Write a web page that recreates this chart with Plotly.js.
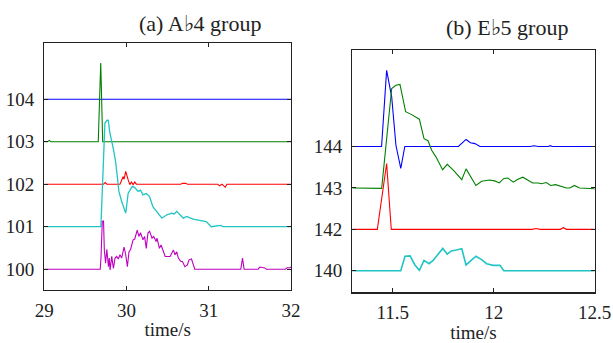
<!DOCTYPE html>
<html>
<head>
<meta charset="utf-8">
<script src="https://cdn.plot.ly/plotly-3.0.1.min.js"></script>
<style>html,body{margin:0;padding:0;background:#fff;}#chart{width:613px;height:343px;}</style>
</head>
<body>
<div id="chart"></div>
<script>
// ---- Panel (a): Ab4 group ----
const aBlueX = [29, 32];
const aBlueY = [104, 104];
const aGreenX = [29, 29.04, 29.06, 29.08, 29.656, 29.686, 29.71, 32];
const aGreenY = [103, 103, 103.03, 103, 103, 104.85, 103, 103];
const aRedX = [29, 29.72, 29.74, 29.76, 29.92, 29.94, 29.96, 29.97, 29.99, 30.02, 30.04, 30.06, 30.08, 30.1, 30.12, 30.14, 30.66, 30.68, 30.72, 30.74, 31.11, 31.13, 31.16, 31.2, 31.22, 32];
const aRedY = [102, 102, 102.04, 102, 102, 102.1, 102.18, 102.12, 102.3, 102.1, 101.99, 102.05, 101.99, 102.05, 102.0, 102, 102, 102.02, 102.02, 102, 102, 101.96, 102.0, 101.93, 102, 102];
const aCyanX = [29, 29.688, 29.737, 29.765, 29.778, 29.798, 29.838, 29.867, 29.89, 29.907, 29.94, 29.98, 29.99, 30.02, 30.04, 30.07, 30.1, 30.14, 30.17, 30.2, 30.24, 30.28, 30.32, 30.38, 30.43, 30.49, 30.55, 30.58, 30.61, 30.65, 30.69, 30.73, 30.81, 30.89, 30.97, 31.03, 31.15, 31.17, 32];
const aCyanY = [101, 101, 103.44, 103.51, 103.5, 103.2, 102.85, 102.53, 102.14, 101.83, 101.6, 101.36, 101.32, 101.79, 101.87, 101.95, 101.92, 101.83, 101.86, 101.75, 101.78, 101.71, 101.47, 101.32, 101.2, 101.28, 101.32, 101.3, 101.36, 101.28, 101.2, 101.24, 101.18, 101.15, 101.12, 101.0, 101.03, 101.0, 101];
const aMagX = [29, 29.68, 29.69, 29.705, 29.72, 29.73, 29.745, 29.76, 29.78, 29.79, 29.80, 29.82, 29.84, 29.86, 29.88, 29.90, 29.92, 29.94, 29.97, 29.99, 30.01, 30.03, 30.05, 30.08, 30.10, 30.13, 30.15, 30.17, 30.2, 30.22, 30.24, 30.26, 30.28, 30.31, 30.33, 30.36, 30.37, 30.40, 30.42, 30.45, 30.47, 30.53, 30.57, 30.59, 30.61, 30.63, 30.66, 30.68, 30.71, 30.74, 30.76, 30.79, 30.81, 30.83, 31.39, 31.41, 31.43, 31.6, 31.62, 31.68, 31.7, 31.93, 31.96, 31.98, 32];
const aMagY = [100, 100, 100.3, 101.12, 101.14, 100.45, 100.14, 100.47, 100.06, 100.26, 99.98, 100.3, 100.02, 100.26, 100.3, 100.24, 100.34, 100.26, 100.52, 100.34, 100.06, 100.41, 100.47, 100.69, 100.71, 100.92, 100.77, 100.86, 100.69, 100.77, 100.49, 100.85, 100.89, 100.73, 100.77, 100.65, 100.73, 100.49, 100.57, 100.41, 100.30, 100.30, 100.45, 100.34, 100.41, 100.26, 100.18, 100.18, 100.06, 100.1, 100.22, 100.24, 100.1, 100.0, 100, 100.26, 100, 100, 100.05, 100.03, 100, 100, 100.04, 100.03, 100.05];
const aXTicks = [29, 30, 31, 32];
const aYTicks = [100, 101, 102, 103, 104];
const aYTickText = ['100', '101', '102', '103', '104'];

// ---- Panel (b): Eb5 group ----
const bBlueX = [11.3, 11.445, 11.47, 11.495, 11.516, 11.54, 11.56, 11.825, 11.863, 11.885, 11.907, 11.932, 12.18, 12.2, 12.22, 12.27, 12.28, 12.29, 12.5];
const bBlueY = [144, 144, 145.84, 145.2, 144.03, 143.47, 144.0, 144, 144.17, 144.09, 144.07, 144.0, 144, 144.02, 144, 144, 144.02, 144, 144];
const bGreenX = [11.3, 11.4455, 11.495, 11.516, 11.536, 11.564, 11.594, 11.632, 11.655, 11.675, 11.693, 11.714, 11.747, 11.77, 11.8, 11.82, 11.842, 11.863, 11.886, 11.912, 11.94, 11.98, 12.005, 12.028, 12.05, 12.07, 12.097, 12.12, 12.144, 12.167, 12.193, 12.22, 12.237, 12.26, 12.282, 12.306, 12.33, 12.36, 12.376, 12.4, 12.425, 12.45, 12.5];
const bGreenY = [143, 142.99, 145.4, 145.48, 145.5, 144.84, 144.77, 144.66, 144.19, 144.14, 143.91, 143.75, 143.44, 143.57, 143.43, 143.33, 143.2, 143.46, 143.28, 143.06, 143.16, 143.19, 143.17, 143.12, 143.23, 143.24, 143.14, 143.21, 143.26, 143.2, 143.12, 143.12, 143.1, 143.13, 143.06, 143.08, 143.04, 143.0, 143.0, 143.06, 143.0, 142.99, 142.98];
const bRedX = [11.3, 11.424, 11.47, 11.493, 12.19, 12.21, 12.23, 12.33, 12.345, 12.36, 12.5];
const bRedY = [142, 142, 143.59, 142, 142, 142.02, 142, 142, 142.04, 142, 142];
const bCyanX = [11.3, 11.54, 11.561, 11.586, 11.61, 11.632, 11.655, 11.68, 11.7, 11.726, 11.748, 11.77, 11.79, 11.815, 11.842, 11.863, 11.886, 11.912, 11.94, 11.965, 11.998, 12.031, 12.05, 12.5];
const bCyanY = [141, 141, 141.35, 141.36, 141.14, 141.01, 141.25, 141.17, 141.25, 141.42, 141.54, 141.4, 141.48, 141.5, 141.53, 141.14, 141.24, 141.35, 141.27, 141.17, 141.13, 141.13, 141.0, 141];
const bXTicks = [11.5, 12, 12.5];
const bXTickText = ['11.5', '12', '12.5'];
const bYTicks = [141, 142, 143, 144];
const bYTickText = ['140', '142', '143', '144'];

const C = {blue: '#0000ff', green: '#008000', red: '#ff0000', cyan: '#20c4c4', mag: '#bf00bf'};
function tr(x, y, color, ax, w) {
  return {x: x, y: y, type: 'scatter', mode: 'lines', xaxis: ax[0], yaxis: ax[1],
          line: {color: color, width: w || 1.1}, hoverinfo: 'skip', showlegend: false};
}
const A = ['x', 'y'], B = ['x2', 'y2'];
const data = [
  tr(aBlueX, aBlueY, C.blue, A), tr(aGreenX, aGreenY, C.green, A), tr(aRedX, aRedY, C.red, A),
  tr(aCyanX, aCyanY, C.cyan, A, 1.3), tr(aMagX, aMagY, C.mag, A),
  tr(bBlueX, bBlueY, C.blue, B), tr(bGreenX, bGreenY, C.green, B), tr(bRedX, bRedY, C.red, B),
  tr(bCyanX, bCyanY, C.cyan, B, 1.6)
];
const FAM = 'Liberation Serif';
function mkFont(size) { return {family: FAM, size: size, color: '#222'}; }
function axBase() {
  return {showgrid: false, zeroline: false, showline: true, linecolor: '#222', linewidth: 1.2,
    mirror: 'allticks', ticks: 'inside', ticklen: 4, tickcolor: '#222', tickfont: mkFont(19), fixedrange: true};
}
function xTitle() { return {text: 'time/s', font: mkFont(19), standoff: 2}; }
const layout = {
  width: 613, height: 343, margin: {l: 0, r: 0, t: 0, b: 0},
  paper_bgcolor: '#fff', plot_bgcolor: '#fff', font: mkFont(19), showlegend: false,
  xaxis: Object.assign(axBase(), {domain: [0.0723, 0.4747], anchor: 'y', range: [29, 32],
    tickvals: aXTicks, ticktext: aXTicks.map(String), ticklabelstandoff: 3, title: xTitle()}),
  yaxis: Object.assign(axBase(), {domain: [0.1545, 0.8755], anchor: 'x', range: [99.51, 105.33],
    tickvals: aYTicks, ticktext: aYTickText, ticklabelstandoff: 5}),
  xaxis2: Object.assign(axBase(), {domain: [0.5747, 0.9702], anchor: 'y2', range: [11.3, 12.5001],
    tickvals: bXTicks, ticktext: bXTickText, ticklabelstandoff: 3, title: xTitle()}),
  yaxis2: Object.assign(axBase(), {domain: [0.1478, 0.8542], anchor: 'x2', range: [140.48, 146.33],
    tickvals: bYTicks, ticktext: bYTickText, ticklabelstandoff: 5}),
  annotations: [
    {text: '(a) A\u266d4 group', xref: 'paper', yref: 'paper', x: 200 / 613, y: 1 - 23 / 343,
     xanchor: 'center', yanchor: 'middle', showarrow: false, font: mkFont(22)},
    {text: '(b) E\u266d5 group', xref: 'paper', yref: 'paper', x: 507 / 613, y: 1 - 28 / 343,
     xanchor: 'center', yanchor: 'middle', showarrow: false, font: mkFont(22)}
  ]
};
Plotly.newPlot('chart', data, layout, {staticPlot: true, displayModeBar: false});
</script>
</body>
</html>
